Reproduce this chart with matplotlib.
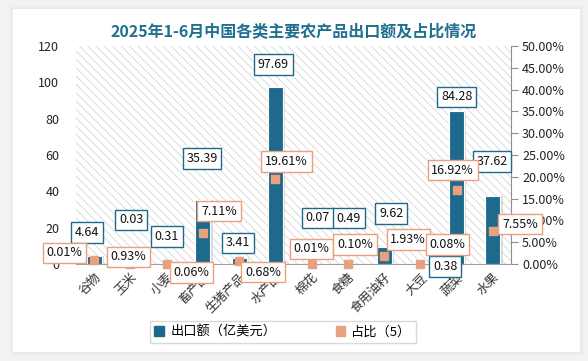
import matplotlib.pyplot as plt
import matplotlib.patches as mpatches
from matplotlib.patches import Rectangle

plt.rcParams['font.family'] = ['Noto Sans CJK SC', 'DejaVu Sans']
plt.rcParams['hatch.color'] = '#d6d6d6'
plt.rcParams['hatch.linewidth'] = 0.6

categories = ['谷物', '玉米', '小麦', '畜产品', '生猪产品', '水产品',
              '棉花', '食糖', '食用油籽', '大豆', '蔬菜', '水果']
export_values = [4.64, 0.03, 0.31, 35.39, 3.41, 97.69, 0.07, 0.49, 9.62, 0.38, 84.28, 37.62]
share_values = [0.93, 0.01, 0.06, 7.11, 0.68, 19.61, 0.01, 0.10, 1.93, 0.08, 16.92, 7.55]
left_ticks = [0, 20, 40, 60, 80, 100, 120]
right_ticks = [0, 5, 10, 15, 20, 25, 30, 35, 40, 45, 50]

# label offsets in pixels (placement of the boxes as in the original)
bar_label_offsets = [(-7, 23), (1, 44), (0, 27), (-1, 41), (-1, 15), (-2, 22),
                     (6, 46), (1, 45), (7, 33), (25, -3), (0, 14), (-1, 34)]
share_label_offsets = [(34, 3), (-66, 11), (25, -9), (16, 22), (24, -11), (11, 17),
                       (0, 15), (7, 19), (24, 16), (27, 19), (-4, 20), (27, 7)]

BLUE = '#1d6a8d'
SALMON = '#e9a07f'

fig = plt.figure(figsize=(5.88, 3.61), dpi=100)
fig.patch.set_facecolor('#f2f2f2')
# card with soft shadow
for k, a in enumerate([0.03, 0.04, 0.05, 0.06]):
    fig.patches.append(Rectangle((13 - 4 + k, 9 - 4 + k), 567 + 8 - 2 * k, 343 + 8 - 2 * k,
                                 transform=None, facecolor='#c8c8c8', alpha=a,
                                 edgecolor='none', zorder=-10))
fig.patches.append(Rectangle((13, 9), 567, 343, transform=None,
                             facecolor='white', edgecolor='none', zorder=-9))

ax = fig.add_axes([76 / 588, 1 - 264 / 361, 435 / 588, 218 / 361])
ax.set_facecolor('white')
ax.add_patch(Rectangle((0, 0), 1, 1, transform=ax.transAxes, facecolor='white',
                       hatch='\\\\\\\\', edgecolor='#d6d6d6', linewidth=0, zorder=0))

x = list(range(len(categories)))
# shadow
ax.bar([i + 0.05 for i in x], export_values, width=0.44, color='#bdbdbd', alpha=0.5, zorder=1)
ax.bar(x, export_values, width=0.41, color=BLUE, edgecolor='white', linewidth=0.8, zorder=2)
ax.set_ylim(0, 120)
ax.set_xlim(-0.5, len(categories) - 0.5)
ax.set_yticks(left_ticks)
ax.set_yticklabels([str(t) for t in left_ticks], fontsize=9, color='#222222')
ax.tick_params(axis='y', length=0, pad=12)
ax.set_xticks(x)
ax.set_xticklabels(categories, rotation=45, ha='right', rotation_mode='anchor',
                   fontsize=9, color='#333333')
ax.tick_params(axis='x', length=0, pad=5)
for s in ['top', 'left', 'right']:
    ax.spines[s].set_visible(False)
ax.spines['bottom'].set_color('#a0a0a0')

ax2 = ax.twinx()
ax2.set_ylim(0, 50)
ax2.set_yticks(right_ticks)
ax2.set_yticklabels(['%.2f%%' % t for t in right_ticks], fontsize=9, color='#222222')
ax2.tick_params(axis='y', length=5, color='#909090', pad=3)
for s in ['top', 'left', 'bottom']:
    ax2.spines[s].set_visible(False)
ax2.spines['right'].set_color('#909090')
ax2.scatter(x, share_values, marker='s', s=36, color=SALMON, zorder=3, clip_on=False)

for i, v in enumerate(export_values):
    dx, dy = bar_label_offsets[i]
    ax2.annotate('%.2f' % v, xy=(i, v / 120 * 50), xytext=(dx, dy), textcoords='offset pixels',
                 ha='center', va='center', fontsize=9, color='#111111', zorder=5,
                 bbox=dict(boxstyle='square,pad=0.3', fc='white', ec=BLUE, lw=1))
for i, v in enumerate(share_values):
    dx, dy = share_label_offsets[i]
    ax2.annotate('%.2f%%' % v, xy=(i, v), xytext=(dx, dy), textcoords='offset pixels',
                 ha='center', va='center', fontsize=9, color='#111111', zorder=6,
                 bbox=dict(boxstyle='square,pad=0.3', fc='white', ec=SALMON, lw=1))

fig.text(294 / 588, 1 - 31 / 361, '2025年1-6月中国各类主要农产品出口额及占比情况',
         ha='center', va='center', fontsize=11.5, fontweight='bold', color='#1f6f8f')

handles = [mpatches.Patch(color=BLUE, label='出口额（亿美元）'),
           mpatches.Patch(color=SALMON, label='占比（5）')]
leg = fig.legend(handles=handles, loc='center', bbox_to_anchor=(283 / 588, 1 - 332 / 361),
                 ncol=2, fontsize=9.5, frameon=True, fancybox=False, handlelength=0.7,
                 handleheight=0.7, columnspacing=4.5, borderpad=0.35, borderaxespad=0,
                 handletextpad=0.5)
leg.get_frame().set_edgecolor('#d0d0d0')
leg.get_frame().set_linewidth(1)

fig.savefig('out.png', dpi=100, facecolor=fig.get_facecolor())
